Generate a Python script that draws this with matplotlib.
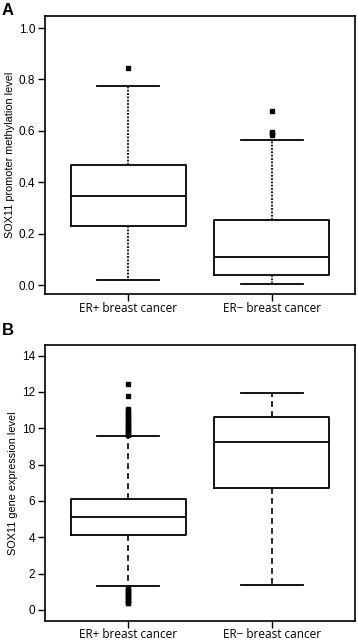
import matplotlib
matplotlib.use("Agg")
import matplotlib.pyplot as plt

groups = ["ER+ breast cancer", "ER\u2212 breast cancer"]

# panel A: SOX11 promoter methylation
meth_med = [0.348, 0.109]
meth_q1 = [0.232, 0.040]
meth_q3 = [0.468, 0.253]
meth_lo = [0.022, 0.004]
meth_hi = [0.775, 0.565]
meth_out = [[0.843], [0.677, 0.595, 0.590, 0.585]]

# panel B: SOX11 gene expression
expr_med = [5.11, 9.22]
expr_q1 = [4.12, 6.72]
expr_q3 = [6.11, 10.60]
expr_lo = [1.32, 1.39]
expr_hi = [9.58, 11.97]
expr_out = [[12.45, 11.77, 11.05, 10.95, 10.85, 10.75, 10.65, 10.55, 10.45, 10.35,
             10.25, 10.15, 10.05, 9.95, 9.85, 9.78, 9.70, 9.64,
             1.20, 1.12, 1.04, 0.96, 0.88, 0.80, 0.72, 0.64, 0.56, 0.48, 0.40, 0.36],
            []]

plt.rcParams['font.family'] = ['Liberation Sans', 'DejaVu Sans']

fig = plt.figure(figsize=(3.58, 6.42), dpi=100)
axA = fig.add_axes([0.1257, 0.5417, 0.866, 0.4339])
axB = fig.add_axes([0.1257, 0.0330, 0.866, 0.4300])


def draw(ax, med, q1, q3, lo, hi, out, dash, ylim, yticks, ylabel):
    stats = []
    for i in range(len(groups)):
        stats.append(dict(med=med[i], q1=q1[i], q3=q3[i], whislo=lo[i],
                          whishi=hi[i], fliers=out[i], label=groups[i]))
    ax.bxp(stats, positions=[1, 2], widths=0.8, showfliers=True,
           boxprops=dict(color='black', linewidth=1.3),
           medianprops=dict(color='black', linewidth=1.3),
           whiskerprops=dict(color='black', linewidth=1.2, linestyle=dash),
           capprops=dict(color='black', linewidth=1.3),
           capwidths=0.43,
           flierprops=dict(marker='s', markersize=3, markerfacecolor='black',
                           markeredgecolor='black', linestyle='none'))
    ax.set_xlim(0.42, 2.58)
    ax.set_ylim(*ylim)
    ax.set_yticks(yticks)
    ax.set_xticks([1, 2])
    ax.set_xticklabels(groups, fontsize=11, family=['Open Sans', 'DejaVu Sans'])
    ax.set_ylabel(ylabel, fontsize=7.8, labelpad=3)
    ax.tick_params(direction='out', length=5, width=1, labelsize=8.5, pad=2)
    ax.tick_params(axis='x', pad=0.5)
    for s in ax.spines.values():
        s.set_linewidth(1.2)


draw(axA, meth_med, meth_q1, meth_q3, meth_lo, meth_hi, meth_out,
     (0, (1.2, 0.8)), (-0.035, 1.048), [0.0, 0.2, 0.4, 0.6, 0.8, 1.0],
     "SOX11 promoter methylation level")
axA.set_yticklabels(["0.0", "0.2", "0.4", "0.6", "0.8", "1.0"])

draw(axB, expr_med, expr_q1, expr_q3, expr_lo, expr_hi, expr_out,
     (0, (3.5, 2.5)), (-0.6, 14.6), [0, 2, 4, 6, 8, 10, 12, 14],
     "SOX11 gene expression level")

fig.text(0.004, 0.995, "A", fontsize=12, fontweight='bold', va='top', ha='left')
fig.text(0.004, 0.497, "B", fontsize=12, fontweight='bold', va='top', ha='left')

fig.savefig("out.png", dpi=100)
